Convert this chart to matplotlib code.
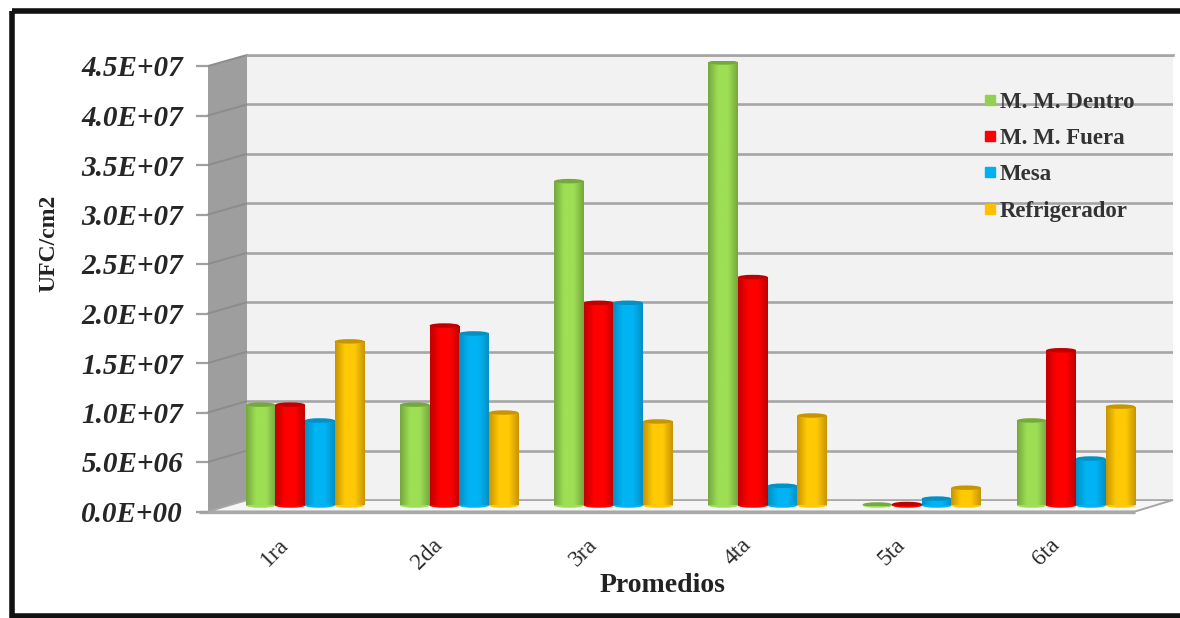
import numpy as np
import matplotlib
matplotlib.use("Agg")
import matplotlib.pyplot as plt
from matplotlib.colors import LinearSegmentedColormap
from matplotlib.lines import Line2D
from matplotlib.patches import Ellipse, Polygon, Rectangle
from matplotlib.ticker import FuncFormatter, MultipleLocator
from matplotlib.transforms import ScaledTranslation

# Bacterial counts per sampling round
rounds = ["1ra", "2da", "3ra", "4ta", "5ta", "6ta"]
mm_dentro = [10.2e6, 10.2e6, 32.8e6, 44.8e6, 0.1e6, 8.6e6]
mm_fuera = [10.2e6, 18.2e6, 20.5e6, 23.1e6, 0.15e6, 15.7e6]
mesa = [8.6e6, 17.4e6, 20.5e6, 2.0e6, 0.7e6, 4.75e6]
refrigerador = [16.6e6, 9.4e6, 8.5e6, 9.1e6, 1.8e6, 10.0e6]
series_names = ["M. M. Dentro", "M. M. Fuera", "Mesa", "Refrigerador"]
series_values = [mm_dentro, mm_fuera, mesa, refrigerador]
series_mid = ["#9ddf55", "#ff0000", "#00b4f4", "#ffca05"]
series_edge = ["#76a83e", "#c00000", "#0390c4", "#c89500"]
series_key = ["#92d050", "#ff0000", "#00b0f0", "#ffc000"]

W, H = 1180, 618
Y_MAX = 4.5e7
Y_STEP = 5e6
SERIF = "Liberation Serif"
GRID = "#a6a6a6"


def px_box(x0, x1, y_top, y_bottom):
    """Axes rectangle from pixel edges measured from the top left."""
    return [x0 / W, 1 - y_bottom / H, (x1 - x0) / W, (y_bottom - y_top) / H]


fig = plt.figure(figsize=(W / 100, H / 100), dpi=100, facecolor="white")

# Frame, side wall and floor, in pixel coordinates
base = fig.add_axes([0, 0, 1, 1], zorder=0)
base.set_xlim(0, W)
base.set_ylim(H, 0)
base.axis("off")
base.add_patch(Rectangle((12, 11), W + 20, H - 13, fill=False, ec="#111111", lw=4))
base.add_patch(Polygon([(208, 66), (247, 55), (247, 500), (208, 511.5)], fc="#9e9e9e", ec="none"))
base.add_patch(Polygon([(208, 511.5), (1135, 511.5), (1173, 500), (247, 500)], fc="#f6f6f6", ec=GRID, lw=1.4))
base.plot([199, 1135], [511.5, 511.5], color="#a8a8a8", lw=2.4, solid_capstyle="butt")
tick_values = np.arange(0, Y_MAX + 1, Y_STEP)
for v in tick_values[1:]:
    front_y = 511.5 - v / Y_MAX * 445.5
    back_y = 500 - v / Y_MAX * 445
    base.plot([208, 247], [front_y, back_y], color="#8c8c8c", lw=1.4)

# Back wall with the horizontal gridlines
wall = fig.add_axes(px_box(247, 1173, 55, 500), zorder=1, facecolor="#f2f2f2")
wall.set_ylim(0, Y_MAX)
wall.yaxis.set_major_locator(MultipleLocator(Y_STEP))
wall.grid(axis="y", color=GRID, lw=1.9)
wall.set_axisbelow(True)
wall.tick_params(left=False, bottom=False, labelleft=False, labelbottom=False)
for s in wall.spines.values():
    s.set_visible(False)
wall.spines["top"].set_visible(True)
wall.spines["top"].set_color(GRID)
wall.spines["top"].set_linewidth(1.9)

# Value scale on the front edge of the side wall
front = fig.add_axes(px_box(208, 1135, 66, 511.5), zorder=1.5, facecolor="none")
front.set_ylim(0, Y_MAX)
front.yaxis.set_major_locator(MultipleLocator(Y_STEP))
front.yaxis.set_major_formatter(FuncFormatter(lambda v, _: f"{v:.1E}"))
front.tick_params(axis="y", length=9, width=1.6, color="#a0a0a0", pad=9)
front.tick_params(bottom=False, labelbottom=False)
for s in front.spines.values():
    s.set_visible(False)
for lab in front.get_yticklabels():
    lab.set(family=SERIF, weight="bold", style="italic", fontsize=21, color="#262626")

# Cylinders
bars_ax = fig.add_axes(px_box(208, 1173, 60.5, 505.5), zorder=2, facecolor="none")
group_step_px = 154.2
first_group_px = 305
x_limits = ((208 - first_group_px) / group_step_px, (1173 - first_group_px) / group_step_px)
bar_w = 29.6 / group_step_px
cap_h = 4.5 * Y_MAX / 445
x_pos = np.arange(len(rounds))
for i, (vals, mid, edge) in enumerate(zip(series_values, series_mid, series_edge)):
    offs = x_pos + (i - 1.5) * bar_w
    cmap = LinearSegmentedColormap.from_list("cyl", [edge, mid, mid, edge])
    shade = np.linspace(0, 1, 64).reshape(1, -1)
    z = 2 + i * 0.1
    rects = bars_ax.bar(offs, vals, width=bar_w, color=mid, lw=0, zorder=z)
    for rect, x, v in zip(rects, offs, vals):
        bars_ax.add_patch(Ellipse((x, 0), bar_w, cap_h, fc=mid, ec="none", zorder=z, clip_on=False))
        img = bars_ax.imshow(shade, cmap=cmap, aspect="auto", zorder=z + 0.01,
                             extent=(x - bar_w / 2, x + bar_w / 2, 0, v))
        img.set_clip_path(rect)
        bars_ax.add_patch(Ellipse((x, v), bar_w, cap_h, fc=edge, ec="none", zorder=z + 0.02))
bars_ax.set_xlim(*x_limits)
bars_ax.set_ylim(0, Y_MAX)
bars_ax.set_xticks(x_pos, rounds)
bars_ax.tick_params(axis="x", length=0, pad=0)
bars_ax.tick_params(left=False, labelleft=False)
for s in bars_ax.spines.values():
    s.set_visible(False)
label_shift = ScaledTranslation(-27 / 100, -29 / 100, fig.dpi_scale_trans)
for lab in bars_ax.get_xticklabels():
    lab.set(family=SERIF, fontsize=17, rotation=45, ha="right", va="top",
            rotation_mode="anchor", color="#2b2b2b")
    lab.set_transform(lab.get_transform() + label_shift)

# Legend over the back wall
handles = [Line2D([], [], ls="none", marker="s", ms=7, mfc=c, mec=c) for c in series_key]
legend = bars_ax.legend(handles, series_names, loc="upper left", frameon=False,
                        bbox_to_anchor=((982 - 208) / (1173 - 208), 0.93),
                        borderaxespad=0, borderpad=0, labelspacing=0.67,
                        handlelength=0.7, handletextpad=0.09,
                        prop={"family": SERIF, "weight": "bold", "size": 16.5})
for t in legend.get_texts():
    t.set_color("#333333")

# Axis titles
fig.text(49 / W, 1 - 243 / H, "UFC/cm2", family=SERIF, weight="bold", fontsize=17,
         rotation=90, ha="center", va="center", color="#222222")
fig.text(663 / W, 1 - 585 / H, "Promedios", family=SERIF, weight="bold", fontsize=20,
         ha="center", va="center", color="#222222")

fig.savefig("out.png", dpi=100)
